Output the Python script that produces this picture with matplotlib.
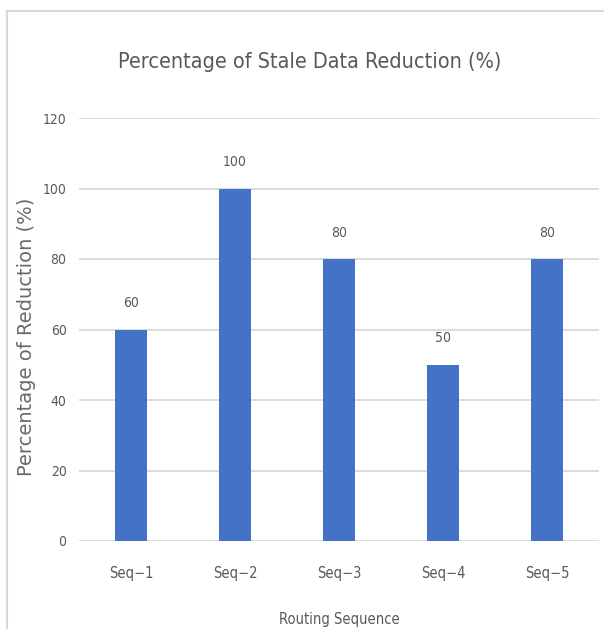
import matplotlib.pyplot as plt
from matplotlib.patches import Rectangle

sequences = ["Seq−1", "Seq−2", "Seq−3", "Seq−4", "Seq−5"]
reduction = [60, 100, 80, 50, 80]
y_ticks = [0, 20, 40, 60, 80, 100, 120]

text_gray = "#595959"
bar_blue = "#4472C4"
grid_gray = "#d9d9d9"
cond = dict(family="DejaVu Sans", stretch="condensed")

fig = plt.figure(figsize=(6.04, 6.29), dpi=100)
ax = fig.add_axes([79/604, 1 - 541/629, 520/604, 423/629])

x = range(len(sequences))
bars = ax.bar(x, reduction, width=0.31, color=bar_blue, zorder=3)
for b, v in zip(bars, reduction):
    ax.annotate(str(v), (b.get_x() + b.get_width()/2, v), xytext=(0, 14),
                textcoords="offset points", ha="center", va="bottom",
                fontsize=10, color=text_gray, **cond)

ax.set_xlim(-0.5, len(sequences) - 0.5)
ax.set_ylim(0, 120)
ax.set_yticks(y_ticks)
ax.set_yticklabels([str(t) for t in y_ticks], fontsize=10, color=text_gray, **cond)
ax.set_xticks(list(x))
ax.set_xticklabels(sequences, fontsize=10.5, color=text_gray, **cond)
ax.tick_params(length=0, pad=9)
ax.tick_params(axis="x", pad=18)
ax.grid(axis="y", color=grid_gray, linewidth=1.3, zorder=0)
for s in ax.spines.values():
    s.set_visible(False)

ax.set_xlabel("Routing Sequence", fontsize=10.5, color=text_gray, labelpad=22, **cond)
ax.set_ylabel("Percentage of Reduction (%)", fontsize=14, color="#6a6a6a")
ax.yaxis.set_label_coords(-0.083, 0.482)

fig.text(310/604, 1 - 62/629, "Percentage of Stale Data Reduction (%)", ha="center", va="center",
         fontsize=15.5, color=text_gray, **cond)

# light frame around the chart area
fig.patches.append(Rectangle((7/604, -0.1), 1.2, 1 - 11/629 + 0.1, transform=fig.transFigure,
                             fill=False, edgecolor=grid_gray, linewidth=1.5))

fig.savefig("out.png", dpi=100)
